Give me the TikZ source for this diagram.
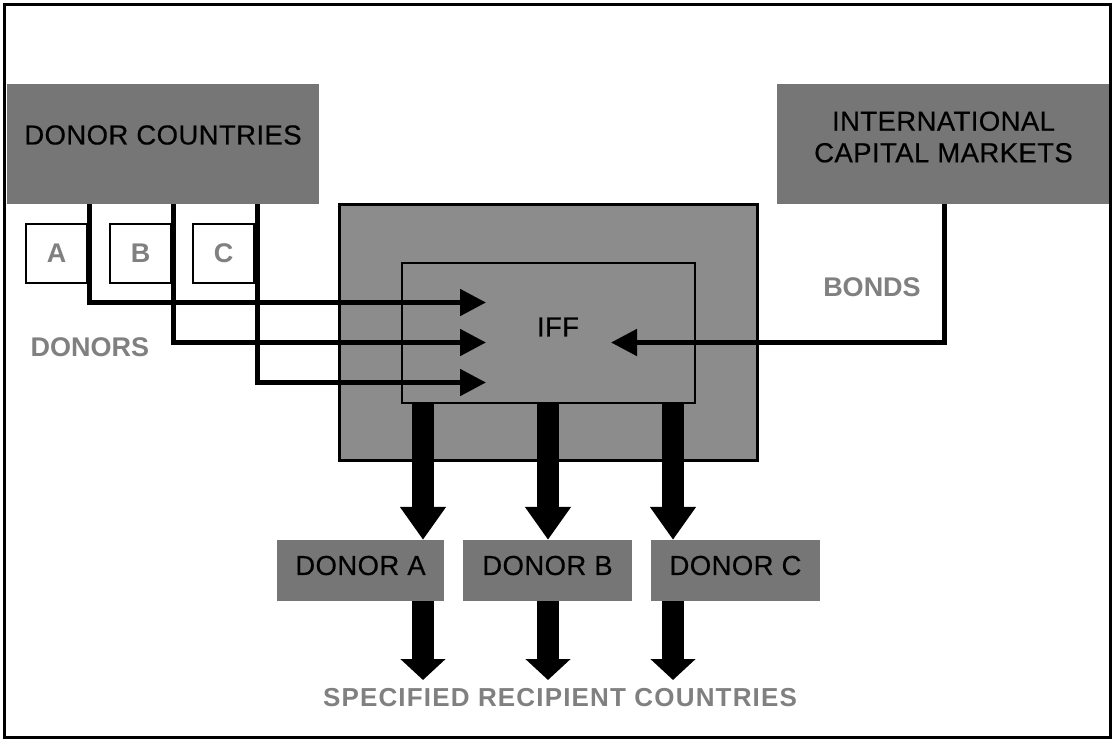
\documentclass[tikz,border=0pt]{standalone}
\usepackage{fontspec}
\setmainfont{Liberation Sans}
\usetikzlibrary{arrows.meta}
\definecolor{boxgray}{HTML}{767676}
\definecolor{iffgray}{HTML}{8C8C8C}
\definecolor{labelgray}{HTML}{808080}
\tikzset{every node/.style={align=center, inner sep=0pt},
  font=\fontsize{27.5}{31.5}\selectfont\addfontfeature{FakeBold=0.4,LetterSpace=1.5},
  graybox/.style={fill=boxgray},
  iffbox/.style={draw, fill=iffgray},
  letterbox/.style={draw, line width=2pt, fill=white, minimum width=61pt, minimum height=59pt,
    text=labelgray, font=\fontsize{27}{31}\selectfont\bfseries},
  graylabel/.style={text=labelgray, font=\fontsize{27}{31}\selectfont\bfseries},
  thinflow/.style={line width=5pt, -{Triangle[length=26pt,width=26pt]}},
  bigflow/.style={line width=22pt, -{Triangle[length=33pt,width=44pt]}},
  outflow/.style={line width=22pt, -{Triangle[length=21pt,width=44pt]}}}

\begin{document}
\begin{tikzpicture}[x=1pt, y=-1pt]
    \useasboundingbox (0,0) rectangle (1112,740);
    % sources
    \node [graybox, minimum width=312pt, minimum height=120pt,
        label={[yshift=9pt]center:DONOR COUNTRIES}] (dc) at (163,144) {};
    \node [graybox, minimum width=333pt, minimum height=120pt,
        label={[yshift=7pt]center:INTERNATIONAL\\CAPITAL MARKETS}] (icm) at (943.5,144) {};
    \node [letterbox] (a) at (56.5,253.5) {A};
    \node [letterbox] (b) at (140.5,253.5) {B};
    \node [letterbox] (c) at (223.5,253.5) {C};
    \node [graylabel] (donors) at (90,347) {DONORS};
    \node [graylabel] (bonds) at (872,287) {BONDS};
    % facility
    \node [iffbox, line width=3pt, minimum width=418pt, minimum height=256pt] (fac) at (548,332) {};
    \node [iffbox, line width=2pt, minimum width=293pt, minimum height=140pt,
        label={[xshift=9.5pt,yshift=6pt]center:IFF}] (iff) at (548.5,333) {};
    % recipients
    \node [graybox, minimum width=167pt, minimum height=61pt,
        label={[yshift=5pt]center:DONOR A}] (da) at (360.5,570.5) {};
    \node [graybox, minimum width=169pt, minimum height=61pt,
        label={[yshift=5pt]center:DONOR B}] (db) at (547.5,570.5) {};
    \node [graybox, minimum width=169pt, minimum height=61pt,
        label={[yshift=5pt]center:DONOR C}] (dcc) at (735.5,570.5) {};
    \node [graylabel, font=\fontsize{26}{30}\selectfont\bfseries\addfontfeature{LetterSpace=4.5}]
        (rec) at (560,697.5) {SPECIFIED RECIPIENT COUNTRIES};

    \coordinate (outA) at (89.5,204);  \coordinate (inA) at (486,302.5);
    \coordinate (outB) at (173.5,204); \coordinate (inB) at (486,342.5);
    \coordinate (outC) at (257.5,204); \coordinate (inC) at (486,382.5);
    \coordinate (outM) at (944,204);   \coordinate (inM) at (611,342.5);
    \coordinate (colA) at (423,0); \coordinate (colB) at (548,0); \coordinate (colC) at (673,0);
    \coordinate (tips) at (0,680);

    \draw [thinflow] (outA) |- (inA);
    \draw [thinflow] (outB) |- (inB);
    \draw [thinflow] (outC) |- (inC);
    \draw [thinflow] (outM) |- (inM);
    \draw [bigflow] (iff.south -| colA) -- (colA |- da.north);
    \draw [bigflow] (iff.south -| colB) -- (colB |- db.north);
    \draw [bigflow] (iff.south -| colC) -- (colC |- dcc.north);
    \draw [outflow] (da.south -| colA) -- (colA |- tips);
    \draw [outflow] (db.south -| colB) -- (colB |- tips);
    \draw [outflow] (dcc.south -| colC) -- (colC |- tips);

    \draw [line width=3pt] (4,4) rectangle (1110.5,737.5);
\end{tikzpicture}
\end{document}
